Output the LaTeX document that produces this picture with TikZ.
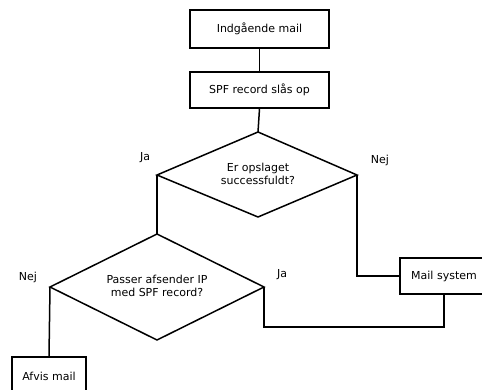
\documentclass[tikz,border=0pt]{standalone}
\usepackage{fontspec}
\setmainfont{DejaVu Sans}
\usetikzlibrary{shapes.geometric}
\begin{document}
\begin{tikzpicture}[x=1pt,y=-1pt,line width=1.5pt,
  every node/.style={font=\fontsize{11}{13.5}\selectfont},
  boxn/.style={draw,rectangle,inner sep=0pt},
  lbl/.style={inner sep=0pt}]
\useasboundingbox (0,0) rectangle (482,390);
\clip (0,0) rectangle (482,390);
\node[boxn,minimum width=139pt,minimum height=38pt] (b1) at (259.5,29) {Indgående mail};
\node[boxn,minimum width=139pt,minimum height=36pt] (b2) at (259.5,90) {SPF record slås op};
\coordinate (d1t) at (258,132);
\coordinate (d1l) at (157,175);
\coordinate (d1r) at (357,175);
\coordinate (d1b) at (258,217);
\draw (d1t) -- (d1r) -- (d1b) -- (d1l) -- cycle;
\node[lbl,align=center] (q1) at (258,174) {Er opslaget\\successfuldt?};
\coordinate (d2t) at (157,234);
\coordinate (d2l) at (50,287);
\coordinate (d2r) at (264,287);
\coordinate (d2b) at (157,340);
\draw (d2t) -- (d2r) -- (d2b) -- (d2l) -- cycle;
\node[lbl,align=center] (q2) at (157,286) {Passer afsender IP\\med SPF record?};
\node[boxn,minimum width=88pt,minimum height=36pt] (ms) at (444,276) {Mail system};
\node[boxn,minimum width=74pt,minimum height=38pt] (af) at (49,376) {Afvis mail};
\node[lbl] (ja1) at (145,158) {Ja};
\node[lbl] (nej1) at (380,160) {Nej};
\node[lbl] (nej2) at (28,277) {Nej};
\node[lbl] (ja2) at (282,275) {Ja};
\draw (b1.south) -- (b2.north);
\draw (b2.south) -- (d1t);
\draw (d1l) -- (d2t);
\draw (d1r) |- (ms.west);
\draw (d2l) -- (af.north);
\draw (d2r) -- (264,327) -| (ms.south);
\end{tikzpicture}
\end{document}
